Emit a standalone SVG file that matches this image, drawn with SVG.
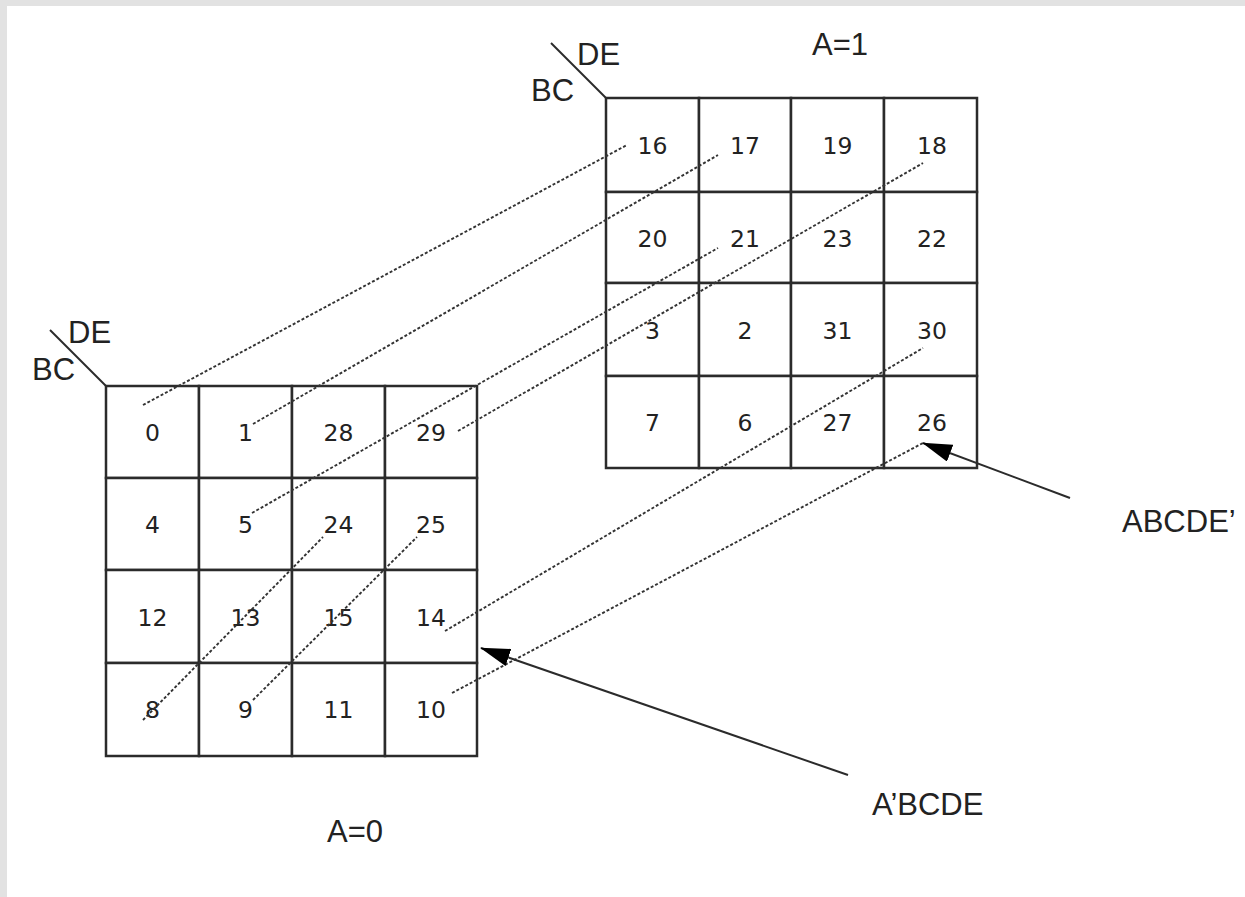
<svg xmlns="http://www.w3.org/2000/svg" width="1245" height="897" viewBox="0 0 1245 897">
<style>
.cell{fill:#fff;stroke:#2b2b2b;stroke-width:2.5}
.num{font-family:"DejaVu Sans",sans-serif;font-size:23.5px;fill:#222;text-anchor:middle}
.lbl{font-family:"Liberation Sans",Arial,sans-serif;font-size:31px;fill:#222}
.corner{stroke:#2b2b2b;stroke-width:2;fill:none}
.dot{stroke:#333;stroke-width:1.9;stroke-dasharray:3 2;fill:none}
.arr{stroke:#2b2b2b;stroke-width:2;fill:none;marker-end:url(#ah)}
</style>
<defs>
<marker id="ah" markerWidth="30" markerHeight="18" refX="29" refY="9" orient="auto" markerUnits="userSpaceOnUse">
<path d="M0,0 L30,9 L0,18 Z" fill="#000"/>
</marker>
</defs>
<rect x="0" y="0" width="1245" height="897" fill="#e2e2e2"/>
<rect x="7" y="6" width="1238" height="891" fill="#fff"/>

<g id="map-a0">
<line class="corner" x1="50" y1="330" x2="106" y2="386"/>
<text class="lbl" x="68" y="343">DE</text>
<text class="lbl" x="32" y="380">BC</text>
<g id="c0"><rect class="cell" x="106" y="386" width="93" height="92"/><text class="num" x="152.5" y="441">0</text></g>
<g id="c1"><rect class="cell" x="199" y="386" width="93" height="92"/><text class="num" x="245.5" y="441">1</text></g>
<g id="c28"><rect class="cell" x="292" y="386" width="93" height="92"/><text class="num" x="338.5" y="441">28</text></g>
<g id="c29"><rect class="cell" x="385" y="386" width="92" height="92"/><text class="num" x="431" y="441">29</text></g>
<g id="c4"><rect class="cell" x="106" y="478" width="93" height="92"/><text class="num" x="152.5" y="533">4</text></g>
<g id="c5"><rect class="cell" x="199" y="478" width="93" height="92"/><text class="num" x="245.5" y="533">5</text></g>
<g id="c24"><rect class="cell" x="292" y="478" width="93" height="92"/><text class="num" x="338.5" y="533">24</text></g>
<g id="c25"><rect class="cell" x="385" y="478" width="92" height="92"/><text class="num" x="431" y="533">25</text></g>
<g id="c12"><rect class="cell" x="106" y="570" width="93" height="93"/><text class="num" x="152.5" y="625.5">12</text></g>
<g id="c13"><rect class="cell" x="199" y="570" width="93" height="93"/><text class="num" x="245.5" y="625.5">13</text></g>
<g id="c15"><rect class="cell" x="292" y="570" width="93" height="93"/><text class="num" x="338.5" y="625.5">15</text></g>
<g id="c14"><rect class="cell" x="385" y="570" width="92" height="93"/><text class="num" x="431" y="625.5">14</text></g>
<g id="c8"><rect class="cell" x="106" y="663" width="93" height="93"/><text class="num" x="152.5" y="718">8</text></g>
<g id="c9"><rect class="cell" x="199" y="663" width="93" height="93"/><text class="num" x="245.5" y="718">9</text></g>
<g id="c11"><rect class="cell" x="292" y="663" width="93" height="93"/><text class="num" x="338.5" y="718">11</text></g>
<g id="c10"><rect class="cell" x="385" y="663" width="92" height="93"/><text class="num" x="431" y="718">10</text></g>
<text class="lbl" x="327" y="842">A=0</text>
</g>

<g id="map-a1">
<line class="corner" x1="551" y1="43" x2="606" y2="98"/>
<text class="lbl" x="577" y="65">DE</text>
<text class="lbl" x="531" y="101">BC</text>
<text class="lbl" x="812" y="55">A=1</text>
<g id="c16"><rect class="cell" x="606" y="98" width="93" height="94"/><text class="num" x="652.5" y="154">16</text></g>
<g id="c17"><rect class="cell" x="699" y="98" width="92" height="94"/><text class="num" x="745" y="154">17</text></g>
<g id="c19"><rect class="cell" x="791" y="98" width="93" height="94"/><text class="num" x="837.5" y="154">19</text></g>
<g id="c18"><rect class="cell" x="884" y="98" width="93" height="94"/><text class="num" x="932" y="154">18</text></g>
<g id="c20"><rect class="cell" x="606" y="192" width="93" height="91"/><text class="num" x="652.5" y="246.5">20</text></g>
<g id="c21"><rect class="cell" x="699" y="192" width="92" height="91"/><text class="num" x="745" y="246.5">21</text></g>
<g id="c23"><rect class="cell" x="791" y="192" width="93" height="91"/><text class="num" x="837.5" y="246.5">23</text></g>
<g id="c22"><rect class="cell" x="884" y="192" width="93" height="91"/><text class="num" x="932" y="246.5">22</text></g>
<g id="c3"><rect class="cell" x="606" y="283" width="93" height="93"/><text class="num" x="652.5" y="339">3</text></g>
<g id="c2"><rect class="cell" x="699" y="283" width="92" height="93"/><text class="num" x="745" y="339">2</text></g>
<g id="c31"><rect class="cell" x="791" y="283" width="93" height="93"/><text class="num" x="837.5" y="339">31</text></g>
<g id="c30"><rect class="cell" x="884" y="283" width="93" height="93"/><text class="num" x="932" y="339">30</text></g>
<g id="c7"><rect class="cell" x="606" y="376" width="93" height="92"/><text class="num" x="652.5" y="431">7</text></g>
<g id="c6"><rect class="cell" x="699" y="376" width="92" height="92"/><text class="num" x="745" y="431">6</text></g>
<g id="c27"><rect class="cell" x="791" y="376" width="93" height="92"/><text class="num" x="837.5" y="431">27</text></g>
<g id="c26"><rect class="cell" x="884" y="376" width="93" height="92"/><text class="num" x="932" y="431">26</text></g>
</g>

<g id="connectors">
<line class="dot" x1="143" y1="405" x2="627" y2="145"/>
<line class="dot" x1="253" y1="424" x2="718" y2="155"/>
<line class="dot" x1="252" y1="513" x2="718" y2="248"/>
<line class="dot" x1="458" y1="431" x2="923" y2="163"/>
<line class="dot" x1="445" y1="631" x2="923" y2="348"/>
<line class="dot" x1="452" y1="693" x2="923" y2="443"/>
<line class="dot" x1="143" y1="720" x2="323" y2="537"/>
<line class="dot" x1="253" y1="700" x2="417" y2="537"/>
<line class="arr" x1="848" y1="775" x2="481" y2="648"/>
<line class="arr" x1="1070" y1="498" x2="923" y2="443"/>
</g>

<g id="labels">
<text class="lbl" x="1122" y="532">ABCDE’</text>
<text class="lbl" x="872" y="815">A’BCDE</text>
</g>
</svg>
